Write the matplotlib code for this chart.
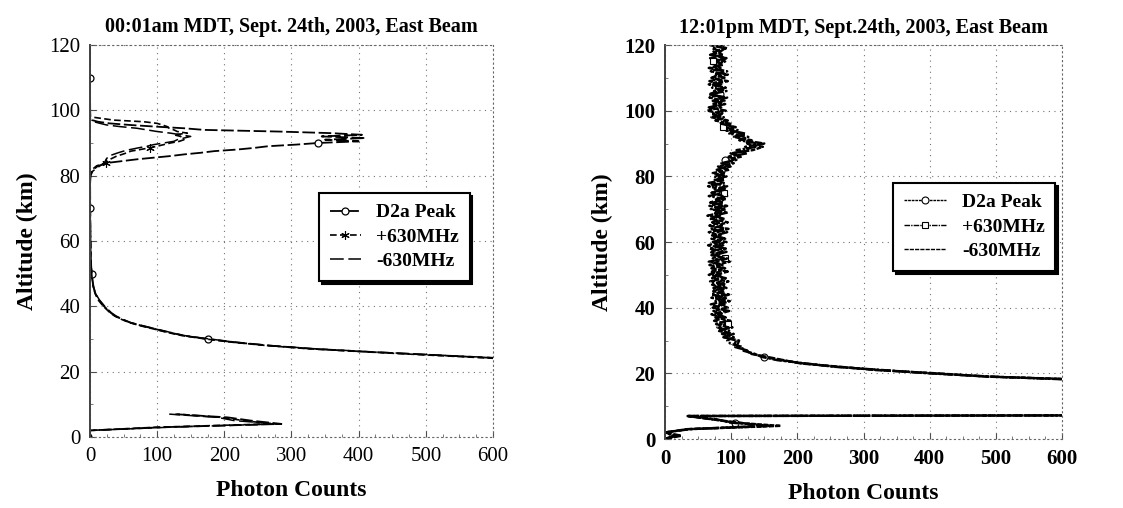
import matplotlib
matplotlib.use("Agg")
import matplotlib.pyplot as plt
from matplotlib.ticker import MultipleLocator
import numpy as np

plt.rcParams['font.family'] = ['Liberation Serif', 'DejaVu Serif']

nan = np.nan

# Night profile, 00:01am (altitude km, photon counts)
#---------------------------
night_alt = [0, 1, 2, 3, 4, 5, 6, 7, 8,
             10, 12, 14, 16, 18, 20, 22,
             23, 24, 25, 26, 27, 28, 29, 30, 31, 32, 33, 34, 35, 36, 37, 38,
             40, 42, 44, 46, 48, 50, 52, 55, 60, 65, 70, 75, 78,
             80, 81, 82, 83, 84, 85, 86,
             86.5, 87, 87.5, 88, 88.5, 89, 89.5, 90, 90.5, 91, 91.5,
             92, 92.5, 93, 93.5, 94, 94.5, 95, 95.5, 96, 96.5, 97,
             98, 100, 105, 110, 115, 120]

night_d2a = [3, 0, 0, 110, 285, 240, 205, 125, nan,
             9000, 6000, 4200, 3000, 2100, 1500, 1000,
             800, 620, 520, 420, 330, 265, 215, 175, 140, 118, 98, 78, 60, 48, 38, 31,
             21, 13, 8, 5, 3.5, 2.5, 2, 1.2, 0.8, 0.5, 0.4, 0.3, 0.3,
             1, 3, 6, 12, 30, 70, 120,
             140, 165, 185, 220, 245, 265, 307, 340, 400, 350, 410,
             345, 405, 360, 280, 170, 140, 98, 60, 29, 12, 3,
             0.5, 0.3, 0.2, 0.2, 0.1, 0.1]

night_plus = [0, 0, 0, 100, 270, 230, 195, 130, nan,
              8800, 5900, 4100, 2950, 2050, 1450, 980,
              790, 610, 510, 415, 325, 262, 212, 172, 138, 115, 96, 76, 59, 47, 37, 30,
              20, 12, 7.5, 5, 3.5, 2.5, 2, 1.2, 0.8, 0.5, 0.4, 0.3, 0.3,
              0.5, 1, 4, 10, 24, 30, 40,
              48, 55, 61, 75, 89, 100, 110, 120, 133, 140, 138,
              135, 125, 145, 130, 125, 118, 115, 108, 100, 80, 35,
              0.5, 0.3, 0.2, 0.2, 0.1, 0.1]

night_minus = [0, 0, 0, 120, 280, 215, 190, 118, nan,
               9200, 6100, 4300, 3050, 2150, 1520, 1010,
               810, 630, 525, 425, 335, 268, 218, 178, 142, 120, 100, 80, 61, 49, 39, 32,
               22, 14, 8, 5.5, 4, 3, 2, 1.3, 0.9, 0.6, 0.4, 0.3, 0.3,
               0.3, 2, 8, 15, 22, 24, 28,
               35, 42, 50, 60, 72, 85, 95, 110, 125, 130, 140,
               150, 135, 120, 100, 85, 70, 45, 25, 15, 6, 1,
               0.3, 0.2, 0.1, 0.1, 0.1, 0.1]

# Day profile, 12:01pm (1 km bins, 0..120 km)
#---------------------------
day_alt = list(range(0, 121))

day_d2a = [0, 18, 0, 35, 175, 105, 72, 35, 3000, 2800,
           2500, 2200, 1900, 1600, 1300, 1050, 860, 720, 640, 490,
           405, 325, 260, 210, 175, 150, 132, 120, 112, 105,
           108, 90, 98, 80, 102, 83, 99, 76, 87, 73,
           95, 82, 98, 70, 91, 77, 93, 80, 96, 71,
           86, 69, 91, 76, 98, 72, 81, 68, 87, 76,
           93, 70, 84, 66, 90, 78, 95, 69, 83, 74,
           92, 67, 88, 77, 94, 71, 85, 65, 89, 75,
           93, 72, 97, 80, 104, 90, 116, 99, 133, 148,
           122, 131, 104, 118, 92, 107, 82, 93, 70, 86,
           64, 85, 71, 90, 67, 83, 74, 92, 66, 86,
           72, 95, 69, 84, 75, 91, 68, 88, 73, 94,
           76]

day_plus = [0, 12, 0, 38, 160, 98, 78, 36, 3000, 2780,
            2480, 2180, 1880, 1590, 1290, 1040, 850, 715, 625, 495,
            398, 330, 255, 214, 170, 146, 135, 116, 118, 99,
            94, 104, 86, 97, 79, 95, 74, 92, 80, 97,
            72, 90, 76, 94, 70, 88, 73, 92, 68, 89,
            77, 95, 70, 87, 66, 90, 75, 93, 67, 88,
            72, 91, 76, 94, 68, 86, 71, 90, 74, 95,
            69, 87, 73, 92, 66, 89, 75, 94, 70, 86,
            74, 92, 78, 99, 85, 108, 96, 124, 108, 139,
            141, 112, 126, 97, 112, 88, 99, 76, 89, 70,
            88, 66, 91, 72, 87, 69, 93, 71, 85, 67,
            90, 74, 94, 70, 88, 73, 92, 68, 86, 71,
            89]

day_minus = [0, 25, 0, 33, 150, 112, 70, 34, 3000, 2820,
             2520, 2220, 1920, 1610, 1310, 1060, 870, 725, 655, 485,
             412, 318, 265, 205, 180, 155, 128, 124, 106, 110,
             112, 88, 104, 84, 96, 77, 93, 85, 70, 91,
             84, 69, 89, 81, 97, 73, 86, 71, 84, 92,
             66, 83, 88, 67, 80, 94, 70, 84, 92, 65,
             82, 87, 71, 79, 96, 67, 83, 88, 64, 85,
             79, 94, 68, 82, 87, 70, 92, 78, 66, 90,
             81, 86, 80, 93, 88, 103, 112, 102, 128, 121,
             150, 118, 109, 122, 98, 104, 86, 95, 77, 84,
             92, 68, 83, 79, 94, 66, 81, 87, 73, 95,
             70, 82, 89, 66, 85, 79, 93, 72, 84, 90,
             67]

labels = ["D2a Peak", "+630MHz", "-630MHz"]
titles = ["00:01am MDT, Sept. 24th, 2003, East Beam",
          "12:01pm MDT, Sept.24th, 2003, East Beam"]
x_ticks = [0, 100, 200, 300, 400, 500, 600]
y_ticks = [0, 20, 40, 60, 80, 100, 120]


def style_axes(ax, tick_weight):
    ax.set_xlim(0, 600)
    ax.set_ylim(0, 120)
    ax.set_xticks(x_ticks)
    ax.set_yticks(y_ticks)
    ax.xaxis.set_minor_locator(MultipleLocator(25))
    ax.yaxis.set_minor_locator(MultipleLocator(10))
    ax.tick_params(which='major', direction='in', length=4, width=0.8,
                   labelsize=15, pad=7, color='0.3')
    ax.tick_params(which='minor', direction='in', length=2.5, width=0.6, color='0.4')
    for lab in ax.get_xticklabels() + ax.get_yticklabels():
        lab.set_fontweight(tick_weight)
    ax.grid(True, which='major', color='0.45', linestyle=(0, (1, 4)), linewidth=0.8)
    for side in ['top', 'right', 'bottom']:
        ax.spines[side].set_linestyle((0, (1, 3)))
        ax.spines[side].set_color('0.4')
        ax.spines[side].set_linewidth(0.8)
    ax.spines['left'].set_color('0.25')
    ax.spines['left'].set_linewidth(1.4)
    ax.set_xlabel("Photon Counts", fontsize=17, fontweight='bold', labelpad=10)
    ax.set_ylabel("Altitude (km)", fontsize=17, fontweight='bold', labelpad=8)


fig = plt.figure(figsize=(11.23, 5.08), dpi=100)

# Left panel: night
#---------------------------
ax1 = fig.add_axes([0.0801, 0.1398, 0.3589, 0.7717])
mark_alts = [30, 50, 70, 90, 110]
d2a_marks = [night_alt.index(a) for a in mark_alts]
ax1.plot(night_d2a, night_alt, color='k', lw=1.3, linestyle=(0, (7, 2)),
         marker='o', mfc='white', mec='k', ms=5, mew=0.9, markevery=d2a_marks,
         label=labels[0])
ax1.plot(night_plus, night_alt, color='k', lw=1.2, linestyle=(0, (4, 2)),
         marker=(6, 2, 0), ms=6, mew=0.8, markevery=[night_alt.index(a) for a in (84, 88.5)],
         label=labels[1])
ax1.plot(night_minus, night_alt, color='k', lw=1.1, linestyle=(0, (9, 3)),
         label=labels[2])
style_axes(ax1, 'normal')
ax1.set_title(titles[0], fontsize=14.5, fontweight='bold', pad=9)
leg1 = ax1.legend(loc='upper left', bbox_to_anchor=(0.568, 0.622),
                  prop={'size': 14, 'weight': 'bold'}, fancybox=False,
                  edgecolor='k', framealpha=1, handlelength=1.6,
                  borderpad=0.55, labelspacing=0.35, borderaxespad=0,
                  shadow={'color': 'k', 'alpha': 1})
leg1.get_frame().set_linewidth(1.5)

# Right panel: day
#---------------------------
ax2 = fig.add_axes([0.5922, 0.1358, 0.3535, 0.7756])
ax2.plot(day_d2a, day_alt, color='k', lw=1.7, linestyle=(0, (2, 0.6)),
         marker='o', mfc='white', mec='k', ms=5, mew=0.8, markevery=(5, 20),
         label=labels[0])
ax2.plot(day_plus, day_alt, color='k', lw=1.7, linestyle=(0, (4, 0.8, 1, 0.8)),
         marker='s', mfc='white', mec='k', ms=4.5, mew=0.8, markevery=(15, 20),
         label=labels[1])
ax2.plot(day_minus, day_alt, color='k', lw=1.7, linestyle=(0, (3, 0.8)),
         label=labels[2])
style_axes(ax2, 'bold')
ax2.set_title(titles[1], fontsize=14.5, fontweight='bold', pad=9)
leg2 = ax2.legend(loc='upper left', bbox_to_anchor=(0.574, 0.65),
                  prop={'size': 14, 'weight': 'bold'}, fancybox=False,
                  edgecolor='k', framealpha=1, handlelength=2.2,
                  borderpad=0.55, labelspacing=0.35, borderaxespad=0,
                  shadow={'color': 'k', 'alpha': 1})
leg2.get_frame().set_linewidth(1.5)
for line in leg2.get_lines():
    line.set_linewidth(1.0)

plt.savefig("out.png", dpi=100)
